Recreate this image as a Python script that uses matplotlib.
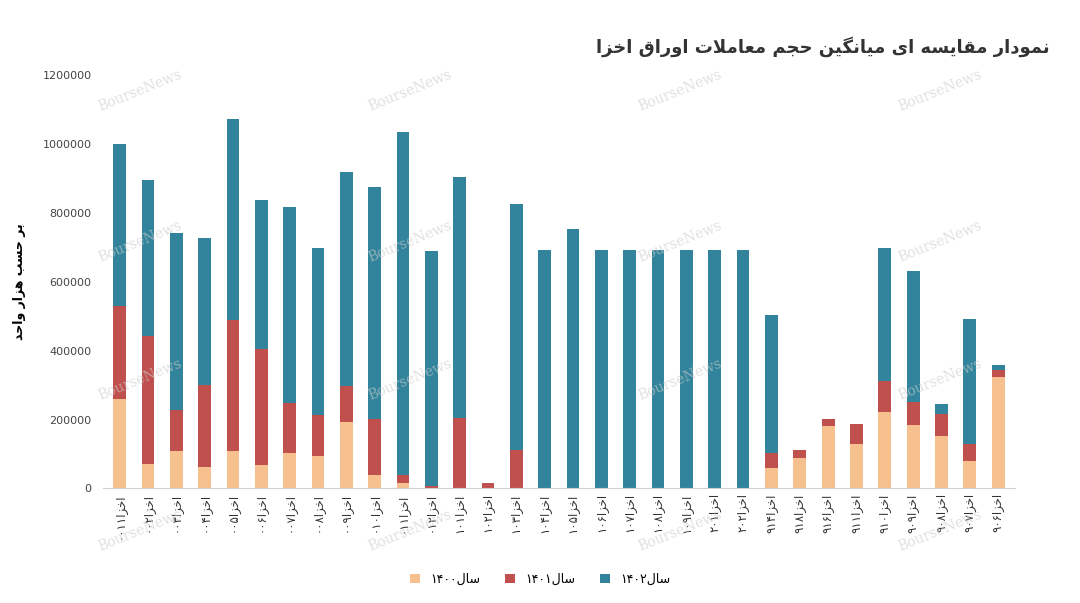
import re
import matplotlib
matplotlib.use("Agg")
import matplotlib.pyplot as plt
from matplotlib.ticker import FuncFormatter
import numpy as np

# --- data ---
codes = ["۰۰۱۱", "۰۰۲", "۰۰۳", "۰۰۴", "۰۰۵", "۰۰۶", "۰۰۷", "۰۰۸", "۰۰۹", "۰۱۰", "۰۱۱", "۰۱۲",
         "۱۰۱", "۱۰۲", "۱۰۳", "۱۰۴", "۱۰۵", "۱۰۶", "۱۰۷", "۱۰۸", "۱۰۹", "۲۰۱", "۲۰۲",
         "۹۱۴", "۹۱۸", "۹۱۶", "۹۱۱", "۹۱۰", "۹۰۹", "۹۰۸", "۹۰۷", "۹۰۶"]
categories = ["اخزا" + c for c in codes]
y1400 = [259000, 70000, 110000, 61000, 108000, 67000, 102000, 93000, 192000, 38000, 17000, 1000,
         0, 0, 0, 0, 0, 0, 0, 0, 0, 0, 0,
         58000, 87000, 180000, 128000, 221000, 183000, 151000, 81000, 323000]
y1401 = [270000, 372000, 117000, 239000, 380000, 337000, 145000, 119000, 105000, 165000, 21000, 5000,
         206000, 17000, 113000, 0, 0, 0, 0, 0, 0, 0, 0,
         44000, 26000, 23000, 58000, 90000, 67000, 64000, 47000, 20000]
y1402 = [471000, 453000, 514000, 427000, 585000, 433000, 570000, 486000, 622000, 672000, 997000, 683000,
         698000, 0, 713000, 692000, 753000, 692000, 692000, 692000, 692000, 692000, 692000,
         401000, 0, 0, 0, 387000, 381000, 29000, 363000, 17000]
series_names = ["سال۱۴۰۰", "سال۱۴۰۱", "سال۱۴۰۲"]
colors = ["#F6C08F", "#C0504D", "#31849B"]
title = "نمودار مقایسه ای میانگین حجم معاملات اوراق اخزا"
ylabel = "بر حسب هزار واحد"

# --- tiny Persian shaper (isolated, final, initial, medial) ---
FORMS = {
    "ا": (0xFE8D, 0xFE8E, None, None), "د": (0xFEA9, 0xFEAA, None, None),
    "ر": (0xFEAD, 0xFEAE, None, None), "ز": (0xFEAF, 0xFEB0, None, None),
    "و": (0xFEED, 0xFEEE, None, None),
    "ب": (0xFE8F, 0xFE90, 0xFE91, 0xFE92), "ت": (0xFE95, 0xFE96, 0xFE97, 0xFE98),
    "ج": (0xFE9D, 0xFE9E, 0xFE9F, 0xFEA0), "ح": (0xFEA1, 0xFEA2, 0xFEA3, 0xFEA4),
    "خ": (0xFEA5, 0xFEA6, 0xFEA7, 0xFEA8), "س": (0xFEB1, 0xFEB2, 0xFEB3, 0xFEB4),
    "ص": (0xFEB9, 0xFEBA, 0xFEBB, 0xFEBC), "ع": (0xFEC9, 0xFECA, 0xFECB, 0xFECC),
    "ف": (0xFED1, 0xFED2, 0xFED3, 0xFED4), "ق": (0xFED5, 0xFED6, 0xFED7, 0xFED8),
    "ل": (0xFEDD, 0xFEDE, 0xFEDF, 0xFEE0), "م": (0xFEE1, 0xFEE2, 0xFEE3, 0xFEE4),
    "ن": (0xFEE5, 0xFEE6, 0xFEE7, 0xFEE8), "ه": (0xFEE9, 0xFEEA, 0xFEEB, 0xFEEC),
    "ی": (0xFBFC, 0xFBFD, 0xFBFE, 0xFBFF), "گ": (0xFB92, 0xFB93, 0xFB94, 0xFB95),
    "ک": (0xFB8E, 0xFB8F, 0xFB90, 0xFB91),
}


def shape_word(w):
    w = w.replace("لا", "\uE000")
    out = []
    for i, ch in enumerate(w):
        if ch == "\uE000":
            prev = w[i - 1] if i > 0 else None
            joined = prev in FORMS and FORMS[prev][2] is not None
            out.append(chr(0xFEFC if joined else 0xFEFB))
            continue
        if ch not in FORMS:
            out.append(ch)
            continue
        prev = w[i - 1] if i > 0 else None
        nxt = w[i + 1] if i + 1 < len(w) else None
        jp = prev in FORMS and FORMS[prev][2] is not None
        jn = (nxt in FORMS or nxt == "\uE000") and FORMS[ch][2] is not None
        f = FORMS[ch]
        if jp and jn:
            out.append(chr(f[3]))
        elif jp:
            out.append(chr(f[1]))
        elif jn:
            out.append(chr(f[2]))
        else:
            out.append(chr(f[0]))
    return "".join(out)


def fa(text):
    runs = re.findall(r"[۰-۹0-9]+|[^۰-۹0-9]+", text)
    vis = []
    for r in runs:
        if re.match(r"[۰-۹0-9]", r):
            vis.append(r)
        else:
            vis.append(shape_word(r)[::-1])
    return "".join(vis[::-1])


plt.rcParams["font.family"] = "DejaVu Sans"
fig, ax = plt.subplots(figsize=(10.8, 6.03), dpi=100)
fig.subplots_adjust(left=0.095, right=0.94, top=0.875, bottom=0.19)

x = np.arange(len(categories))
b0 = np.array(y1400)
b1 = np.array(y1401)
b2 = np.array(y1402)
w = 0.45
ax.bar(x, b0, w, color=colors[0], label=fa(series_names[0]))
ax.bar(x, b1, w, bottom=b0, color=colors[1], label=fa(series_names[1]))
ax.bar(x, b2, w, bottom=b0 + b1, color=colors[2], label=fa(series_names[2]))

ax.set_ylim(0, 1200000)
ax.set_yticks(np.arange(0, 1200001, 200000))
ax.yaxis.set_major_formatter(FuncFormatter(lambda v, p: f"{int(v)}"))
ax.tick_params(axis="y", length=0, labelsize=8, colors="#444444", pad=8)
ax.tick_params(axis="x", length=0, labelsize=8.5, colors="#333333")
ax.set_xticks(x)
ax.set_xticklabels([fa(c) for c in categories], rotation=90)
ax.set_xlim(-0.6, len(categories) - 0.4)
for s in ["top", "right", "left"]:
    ax.spines[s].set_visible(False)
ax.spines["bottom"].set_color("#d0d0d0")
ax.set_ylabel(fa(ylabel), fontsize=9, fontweight="bold", labelpad=12)

fig.text(0.972, 0.905, fa(title), ha="right", va="bottom", fontsize=13,
         fontweight="bold", color="#333333")

fig.legend(loc="lower center", ncol=3, frameon=False, fontsize=9,
           bbox_to_anchor=(0.5, 0.01), handlelength=0.8, handleheight=0.8)

# watermarks
for wx in [0.13, 0.38, 0.63, 0.87]:
    for wy in [0.85, 0.6, 0.37, 0.12]:
        fig.text(wx, wy, "BourseNews", rotation=22, fontsize=10, color="#cccccc",
                 alpha=0.6, family="DejaVu Serif", ha="center", va="center")

fig.savefig("out.png", dpi=100, facecolor="white")
